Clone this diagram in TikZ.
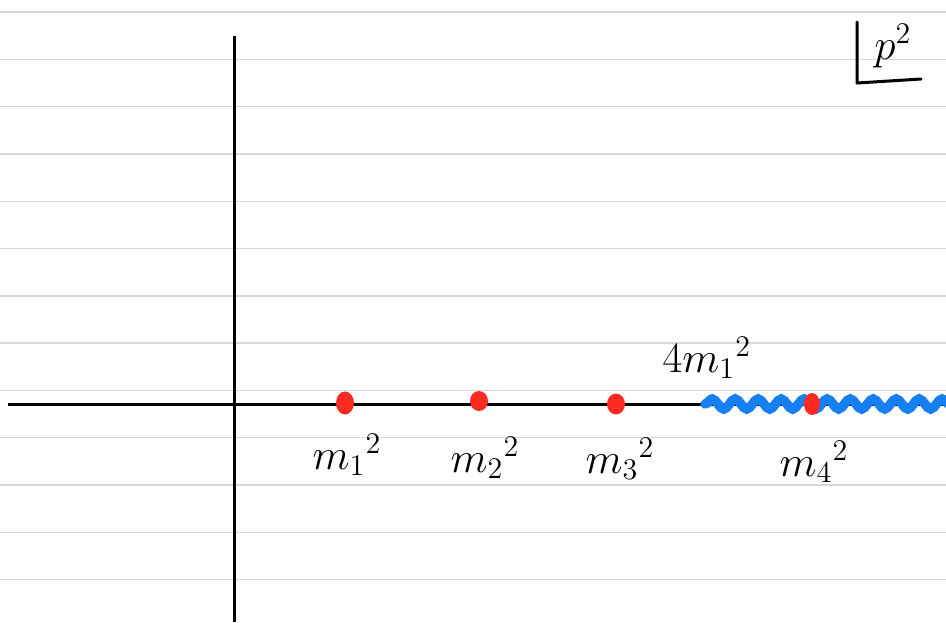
\documentclass[tikz,border=0pt]{standalone}
\usetikzlibrary{decorations.pathmorphing,shapes.geometric}
\definecolor{ruleg}{RGB}{216,216,216}
\definecolor{dotred}{RGB}{252,42,32}
\definecolor{cutblue}{RGB}{22,128,242}
\begin{document}
\begin{tikzpicture}[x=1pt,y=-1pt,
  rule/.style={draw=ruleg,line width=1.4pt},
  axis/.style={draw=black,line width=3pt},
  pole/.style={ellipse,fill=dotred,inner sep=0pt,minimum width=18pt,minimum height=23pt},
  lab/.style={font=\LARGE,scale=2.5,inner sep=0pt},
  cut/.style={draw=cutblue,line width=9.5pt,line cap=round,decorate,decoration={snake,segment length=23pt,amplitude=5pt}}]
\useasboundingbox (0,0) rectangle (946,622);
\fill[white] (0,0) rectangle (946,622);
\foreach \k in {0,...,12}{
  \path[rule] (0,{12+47.3*\k}) -- (946,{12+47.3*\k});
}
% axes
\coordinate (xl) at (8,404);
\coordinate (xr) at (946,404);
\coordinate (yt) at (234,36);
\coordinate (yb) at (234,622);
\path[axis] (xl) -- (xr);
\path[axis] (yt) -- (yb);
% branch cut
\coordinate (c0) at (705,404);
\coordinate (c1) at (960,404);
\begin{scope}
\clip (0,0) rectangle (946,622);
\path[cut] (c0) -- (c1);
\end{scope}
% poles
\node[pole] (p1) at (345,403) {};
\node[pole,minimum height=20pt] (p2) at (479,401) {};
\node[pole,minimum height=21pt] (p3) at (616,404) {};
\node[pole,minimum width=16pt,minimum height=22pt] (p4) at (812,404) {};
% labels
\node[lab] (l1) at (347,455) {$m_1{}^2$};
\node[lab] (l2) at (485,458) {$m_2{}^2$};
\node[lab] (l3) at (620,459) {$m_3{}^2$};
\node[lab] (l4) at (814,462) {$m_4{}^2$};
\node[lab] (l5) at (707,358) {$4m_1{}^2$};
% p^2 corner
\node[lab] (pp) at (893,46) {$p^2$};
\coordinate (ca) at (857,22);
\coordinate (cb) at (857,83);
\coordinate (cc) at (921,79);
\draw[line width=3pt,line cap=round,line join=round] (ca) -- (cb) -- (cc);
\end{tikzpicture}
\end{document}
